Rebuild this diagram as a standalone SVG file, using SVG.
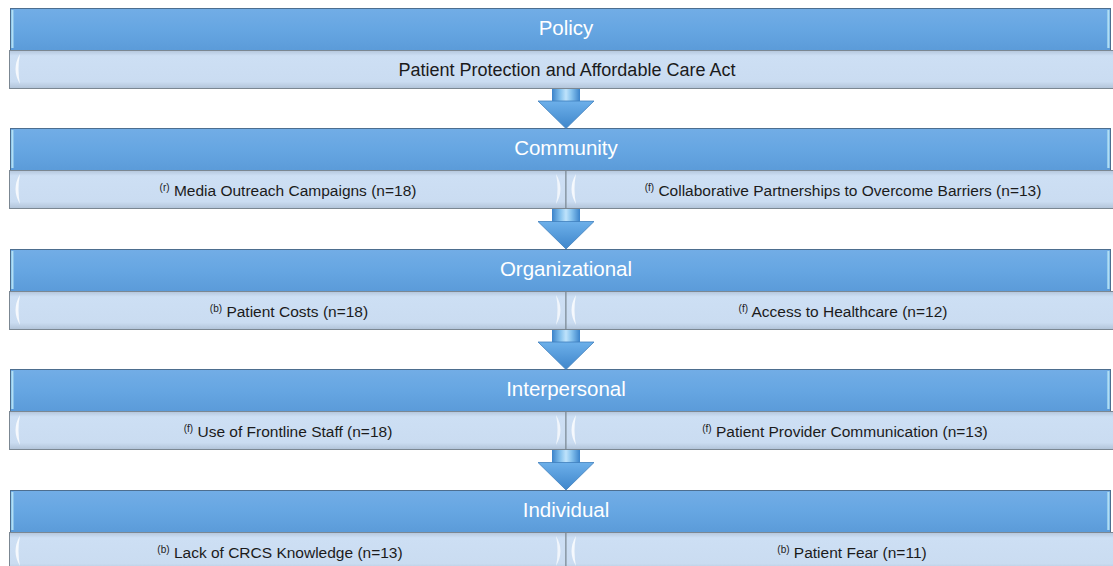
<svg xmlns="http://www.w3.org/2000/svg" width="1113" height="566" viewBox="0 0 1113 566">
  <style>
    .hdr { fill: url(#hdrGrad); stroke: #4d6e8f; stroke-width: 1; }
    .sub { fill: url(#subGrad); stroke: #7b8792; stroke-width: 1; }
    .hdr-t { font-family: "Liberation Sans", Arial, sans-serif; font-size: 20.5px; fill: #ffffff; text-anchor: middle; }
    .sub-t { font-family: "Liberation Sans", Arial, sans-serif; font-size: 15.5px; fill: #1b1b1b; text-anchor: middle; }
    .big { font-size: 18px; }
    .sup { font-size: 10px; }
    .shaft { fill: url(#shaftGrad); }
    .head { fill: url(#headGrad); stroke: #3f7fbd; stroke-width: 0.8; }
  </style>
  <defs>
    <linearGradient id="hdrGrad" x1="0" y1="0" x2="0" y2="1">
      <stop offset="0" stop-color="#72ade6"/>
      <stop offset="0.5" stop-color="#66a6e2"/>
      <stop offset="1" stop-color="#5b9bd9"/>
    </linearGradient>
    <linearGradient id="subGrad" x1="0" y1="0" x2="0" y2="1">
      <stop offset="0" stop-color="#b4c6dc"/>
      <stop offset="0.14" stop-color="#cddff4"/>
      <stop offset="0.82" stop-color="#cadcf1"/>
      <stop offset="1" stop-color="#b1c3d8"/>
    </linearGradient>
    <linearGradient id="edgeGrad" x1="0" y1="0" x2="1" y2="0">
      <stop offset="0" stop-color="#8ccbec"/>
      <stop offset="0.5" stop-color="#bfe7f7"/>
      <stop offset="1" stop-color="#76b6e6"/>
    </linearGradient>
    <linearGradient id="shaftGrad" x1="0" y1="0" x2="1" y2="0">
      <stop offset="0" stop-color="#3b83ca"/>
      <stop offset="0.3" stop-color="#86c2ee"/>
      <stop offset="0.5" stop-color="#bfe3fb"/>
      <stop offset="0.7" stop-color="#86c2ee"/>
      <stop offset="1" stop-color="#3b83ca"/>
    </linearGradient>
    <linearGradient id="headGrad" x1="0" y1="0" x2="0" y2="1">
      <stop offset="0" stop-color="#6db0ea"/>
      <stop offset="1" stop-color="#3f86cb"/>
    </linearGradient>
    <!-- soft bevel highlights at the ends of each light cell -->
    <path id="bevL" d="M10,4 Q1,19 10,34 Q7,19 10,4 Z" fill="#ffffff" fill-opacity="0.8"/>
    <path id="bevR" d="M-10,4 Q-1,19 -10,34 Q-7,19 -10,4 Z" fill="#ffffff" fill-opacity="0.7"/>
    <rect id="hdrEdge" x="0" y="2" width="3" height="38" fill="url(#edgeGrad)" fill-opacity="0.85"/>
  </defs>

  <!-- Policy -->
  <g id="policy">
    <rect class="hdr" x="10.5" y="8.5" width="1100" height="42"/>
    <use href="#hdrEdge" x="11" y="8"/>
    <use href="#hdrEdge" x="1107" y="8"/>
    <text class="hdr-t" x="566" y="35">Policy</text>
  </g>
  <g id="policy-act">
    <rect class="sub" x="9.5" y="50.5" width="1110" height="38"/>
    <use href="#bevL" x="10" y="50"/>
    <text class="sub-t big" x="567" y="75.5">Patient Protection and Affordable Care Act</text>
  </g>

  <!-- Community -->
  <g id="community">
    <rect class="hdr" x="10.5" y="128.5" width="1100" height="42"/>
    <use href="#hdrEdge" x="11" y="128"/>
    <use href="#hdrEdge" x="1107" y="128"/>
    <text class="hdr-t" x="566" y="155">Community</text>
  </g>
  <g id="community-media">
    <rect class="sub" x="9.5" y="170.5" width="556.5" height="38"/>
    <use href="#bevL" x="10" y="170"/>
    <use href="#bevR" x="566" y="170"/>
    <text class="sub-t" x="288" y="195.5"><tspan class="sup" dy="-5">(r)</tspan><tspan dy="5"> Media Outreach Campaigns (n=18)</tspan></text>
  </g>
  <g id="community-partnerships">
    <rect class="sub" x="566" y="170.5" width="553.5" height="38"/>
    <use href="#bevL" x="566" y="170"/>
    <text class="sub-t" x="843" y="195.5"><tspan class="sup" dy="-5">(f)</tspan><tspan dy="5"> Collaborative Partnerships to Overcome Barriers (n=13)</tspan></text>
  </g>

  <!-- Organizational -->
  <g id="organizational">
    <rect class="hdr" x="10.5" y="249.5" width="1100" height="42"/>
    <use href="#hdrEdge" x="11" y="249"/>
    <use href="#hdrEdge" x="1107" y="249"/>
    <text class="hdr-t" x="566" y="276">Organizational</text>
  </g>
  <g id="organizational-costs">
    <rect class="sub" x="9.5" y="291.5" width="556.5" height="38"/>
    <use href="#bevL" x="10" y="291"/>
    <use href="#bevR" x="566" y="291"/>
    <text class="sub-t" x="289" y="316.5"><tspan class="sup" dy="-5">(b)</tspan><tspan dy="5"> Patient Costs (n=18)</tspan></text>
  </g>
  <g id="organizational-access">
    <rect class="sub" x="566" y="291.5" width="553.5" height="38"/>
    <use href="#bevL" x="566" y="291"/>
    <text class="sub-t" x="843" y="316.5"><tspan class="sup" dy="-5">(f)</tspan><tspan dy="5"> Access to Healthcare (n=12)</tspan></text>
  </g>

  <!-- Interpersonal -->
  <g id="interpersonal">
    <rect class="hdr" x="10.5" y="369.5" width="1100" height="42"/>
    <use href="#hdrEdge" x="11" y="369"/>
    <use href="#hdrEdge" x="1107" y="369"/>
    <text class="hdr-t" x="566" y="396">Interpersonal</text>
  </g>
  <g id="interpersonal-staff">
    <rect class="sub" x="9.5" y="411.5" width="556.5" height="38"/>
    <use href="#bevL" x="10" y="411"/>
    <use href="#bevR" x="566" y="411"/>
    <text class="sub-t" x="288" y="436.5"><tspan class="sup" dy="-5">(f)</tspan><tspan dy="5"> Use of Frontline Staff (n=18)</tspan></text>
  </g>
  <g id="interpersonal-communication">
    <rect class="sub" x="566" y="411.5" width="553.5" height="38"/>
    <use href="#bevL" x="566" y="411"/>
    <text class="sub-t" x="845" y="436.5"><tspan class="sup" dy="-5">(f)</tspan><tspan dy="5"> Patient Provider Communication (n=13)</tspan></text>
  </g>

  <!-- Individual -->
  <g id="individual">
    <rect class="hdr" x="10.5" y="490.5" width="1100" height="42"/>
    <use href="#hdrEdge" x="11" y="490"/>
    <use href="#hdrEdge" x="1107" y="490"/>
    <text class="hdr-t" x="566" y="517">Individual</text>
  </g>
  <g id="individual-knowledge">
    <rect class="sub" x="9.5" y="532.5" width="556.5" height="38"/>
    <use href="#bevL" x="10" y="532"/>
    <use href="#bevR" x="566" y="532"/>
    <text class="sub-t" x="280" y="557.5"><tspan class="sup" dy="-5">(b)</tspan><tspan dy="5"> Lack of CRCS Knowledge (n=13)</tspan></text>
  </g>
  <g id="individual-fear">
    <rect class="sub" x="566" y="532.5" width="553.5" height="38"/>
    <use href="#bevL" x="566" y="532"/>
    <text class="sub-t" x="852" y="557.5"><tspan class="sup" dy="-5">(b)</tspan><tspan dy="5"> Patient Fear (n=11)</tspan></text>
  </g>

  <!-- downward block arrows between levels -->
  <g id="connectors">
    <rect class="shaft" x="552" y="89" width="28" height="13"/>
    <polygon class="head" points="538,101 594,101 566,128.5"/>
    <rect class="shaft" x="552" y="209" width="28" height="13"/>
    <polygon class="head" points="538,221.5 594,221.5 566,249"/>
    <rect class="shaft" x="552" y="330" width="28" height="13"/>
    <polygon class="head" points="538,342 594,342 566,369.5"/>
    <rect class="shaft" x="552" y="450" width="28" height="13"/>
    <polygon class="head" points="538,462.5 594,462.5 566,490"/>
  </g>
</svg>
